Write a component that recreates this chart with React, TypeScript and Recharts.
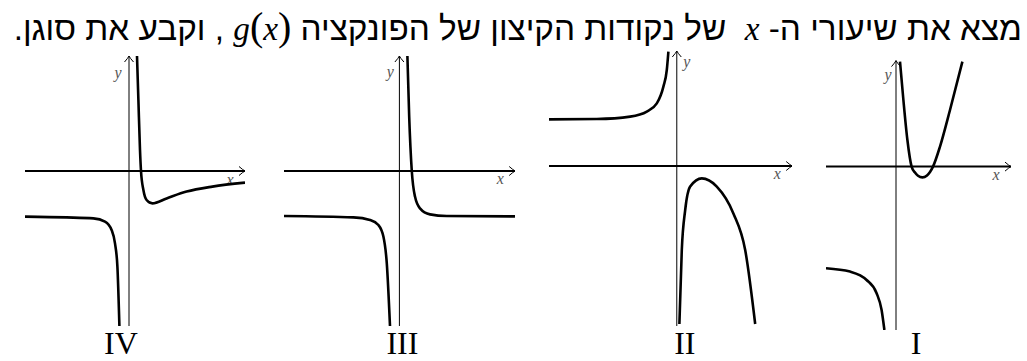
import React from 'react';
import { LineChart, Line, XAxis, YAxis, ReferenceLine } from 'recharts';

// curve points, [x, y] in grid units (1 unit = 20px)
const p4Left = [[-5.2, -2.28], [-3.12, -2.32], [-1.78, -2.37], [-1.2, -2.53], [-0.87, -2.95], [-0.7, -3.62], [-0.58, -4.78], [-0.48, -7.75]];
const p4Right = [[0.4, 5.75], [0.47, 3.55], [0.55, 1.05], [0.6, 0], [0.72, -0.95], [0.88, -1.45], [1.17, -1.62], [1.88, -1.37], [2.88, -1.03], [4.17, -0.78], [5.8, -0.58]];

const p3Left = [[-5.77, -2.25], [-2.3, -2.32], [-1.47, -2.45], [-1.05, -2.7], [-0.8, -3.28], [-0.63, -4.62], [-0.47, -7.75]];
const p3Right = [[0.4, 5.75], [0.49, 2.72], [0.62, 0], [0.78, -1.28], [1.03, -1.87], [1.53, -2.17], [2.37, -2.25], [5.78, -2.27]];

const p2Left = [[-6.39, 2.33], [-4.0, 2.35], [-2.33, 2.47], [-1.5, 2.72], [-1.0, 3.13], [-0.67, 3.97], [-0.5, 4.8], [-0.42, 5.72]];
const p2Right = [[0.13, -7.9], [0.25, -4.2], [0.42, -2.2], [0.67, -1.03], [1.25, -0.62], [2.0, -1.03], [2.83, -2.37], [3.42, -4.2], [3.92, -7.9]];

const p1Left = [[-3.5, -5.08], [-2.3, -5.25], [-1.47, -5.67], [-0.97, -6.33], [-0.72, -7.17], [-0.58, -8.17]];
const p1Right = [[0.2, 5.25], [0.37, 3.33], [0.57, 1.33], [0.78, 0], [0.95, -0.3], [1.1, -0.46], [1.32, -0.54], [1.55, -0.44], [1.7, -0.27], [1.85, 0], [2.2, 1.0], [2.7, 2.83], [3.32, 5.25]];

const numerals = ['IV', 'III', 'II', 'I'];

const UNIT = 20;
const PLOT_H = 280;
const BOTTOM = 31;

type Pt = number[];

type PanelProps = {
  left: number;
  xDomain: [number, number];
  yDomain: [number, number];
  yAxisExt: [number, number];
  leftPts: Pt[];
  rightPts: Pt[];
  numeral: string;
  numeralDx: number;
  yLabel: [number, number];
};

const serif = '"Liberation Serif", "Times New Roman", serif';

const Panel = ({ left, xDomain, yDomain, yAxisExt, leftPts, rightPts, numeral, numeralDx, yLabel }: PanelProps) => {
  const data = [
    ...leftPts.map(([x, y]) => ({ x, l: y })),
    ...rightPts.map(([x, y]) => ({ x, r: y })),
  ];
  const w = (xDomain[1] - xDomain[0]) * UNIT;

  const xAxisShape = (p: any) => {
    const { x1, y1, x2, y2 } = p;
    return (
      <g>
        <line x1={x1} y1={y1} x2={x2} y2={y2} stroke="#000" strokeWidth={2} />
        <path d={`M${x2 - 6},${y2 - 4.5} Q${x2 - 2},${y2 - 1} ${x2},${y2} Q${x2 - 2},${y2 + 1} ${x2 - 6},${y2 + 4.5}`} fill="none" stroke="#000" strokeWidth={1} />
        <text x={x2 - 15} y={y2 + 8} textAnchor="middle" dominantBaseline="central" fontFamily={serif} fontStyle="italic" fontSize={16} fill="#555">x</text>
      </g>
    );
  };

  const yAxisShape = (p: any) => {
    const { x1, y1, x2, y2 } = p;
    return (
      <g>
        <line x1={x1} y1={y1} x2={x2} y2={y2} stroke="#000" strokeWidth={1} />
        <path d={`M${x2 - 4.5},${y2 + 6} Q${x2 - 1},${y2 + 2} ${x2},${y2} Q${x2 + 1},${y2 + 2} ${x2 + 4.5},${y2 + 6}`} fill="none" stroke="#000" strokeWidth={1} />
        <text x={x2 + yLabel[0]} y={y2 + yLabel[1]} textAnchor="middle" dominantBaseline="central" fontFamily={serif} fontStyle="italic" fontSize={16} fill="#555">y</text>
      </g>
    );
  };

  return (
    <div style={{ position: 'absolute', left, top: 50 }}>
      <LineChart width={w} height={PLOT_H + BOTTOM} data={data} margin={{ top: 0, right: 0, bottom: BOTTOM, left: 0 }}>
        <XAxis type="number" dataKey="x" domain={xDomain} allowDataOverflow hide />
        <YAxis type="number" domain={yDomain} allowDataOverflow hide />
        <ReferenceLine segment={[{ x: xDomain[0], y: 0 }, { x: xDomain[1], y: 0 }]} shape={xAxisShape} />
        <ReferenceLine segment={[{ x: 0, y: yAxisExt[0] }, { x: 0, y: yAxisExt[1] }]} shape={yAxisShape} />
        <Line type="monotone" dataKey="l" stroke="#000" strokeWidth={2.6} dot={false} activeDot={false} isAnimationActive={false} />
        <Line type="monotone" dataKey="r" stroke="#000" strokeWidth={2.6} dot={false} activeDot={false} isAnimationActive={false} />
      </LineChart>
      <div
        style={{
          position: 'absolute',
          left: (0 - xDomain[0]) * UNIT + numeralDx - 40,
          width: 80,
          top: 280,
          textAlign: 'center',
          fontFamily: serif,
          fontSize: 32,
          lineHeight: '26px',
          color: '#000',
        }}
      >
        {numeral}
      </div>
    </div>
  );
};

const M = ({ children }: { children: React.ReactNode }) => (
  <span style={{ fontFamily: serif, fontStyle: 'italic' }}>{children}</span>
);
const Paren = ({ children }: { children: React.ReactNode }) => (
  <span style={{ fontFamily: serif, fontSize: 40 }}>{children}</span>
);

export default function App() {
  return (
    <div style={{ position: 'absolute', left: 0, top: 0, width: 1027, height: 361, background: '#fff', overflow: 'hidden' }}>
      <div
        dir="rtl"
        style={{
          position: 'absolute',
          right: 5,
          top: 9,
          fontFamily: '"Liberation Sans", Arial, sans-serif',
          fontSize: 33.3,
          lineHeight: '36px',
          whiteSpace: 'nowrap',
          color: '#000',
        }}
      >
        מצא את שיעורי ה-{' '}<M>x</M>{'\u00a0 '}של נקודות הקיצון של הפונקציה{' '}
        <span dir="ltr" style={{ unicodeBidi: 'isolate' }}>
          <M>g</M>
          <Paren>(</Paren>
          <M>x</M>
          <Paren>)</Paren>
        </span>{' '}
        , וקבע את סוגן.
      </div>

      <Panel left={25} xDomain={[-5.2, 5.8]} yDomain={[-7.95, 6.05]} yAxisExt={[-7.75, 5.75]} leftPts={p4Left} rightPts={p4Right} numeral={numerals[0]} numeralDx={-8} yLabel={[-11, 16]} />
      <Panel left={284} xDomain={[-5.77, 5.79]} yDomain={[-7.95, 6.05]} yAxisExt={[-7.75, 5.75]} leftPts={p3Left} rightPts={p3Right} numeral={numerals[1]} numeralDx={3} yLabel={[-9, 16]} />
      <Panel left={549} xDomain={[-6.39, 5.77]} yDomain={[-8.2, 5.8]} yAxisExt={[-8.0, 5.75]} leftPts={p2Left} rightPts={p2Right} numeral={numerals[2]} numeralDx={8} yLabel={[10, 11]} />
      <Panel left={826} xDomain={[-3.5, 5.75]} yDomain={[-8.17, 5.83]} yAxisExt={[-8.17, 5.3]} leftPts={p1Left} rightPts={p1Right} numeral={numerals[3]} numeralDx={20} yLabel={[-8, 14]} />
    </div>
  );
}
